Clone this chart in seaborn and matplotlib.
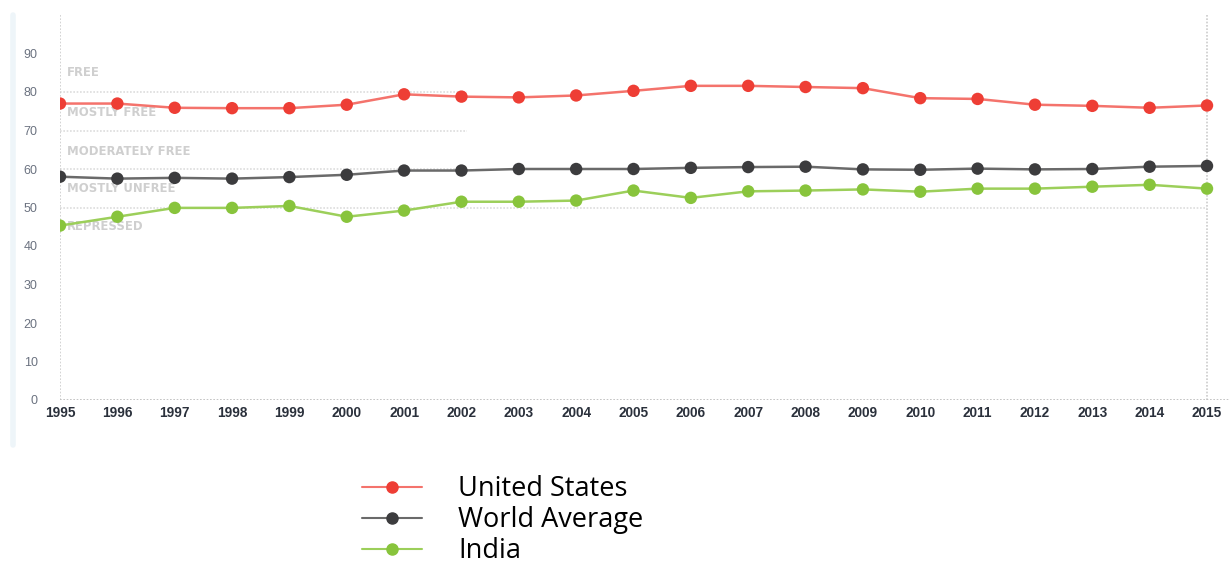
import numpy as np
import pandas as pd
import matplotlib
matplotlib.use("Agg")
import matplotlib.pyplot as plt
from matplotlib.lines import Line2D
import seaborn as sns

years = list(range(1995, 2016))
united_states = [77.0, 77.0, 75.9, 75.8, 75.8, 76.7, 79.4, 78.8, 78.6, 79.1, 80.3, 81.6, 81.6, 81.3, 81.0, 78.4, 78.2, 76.7, 76.4, 75.9, 76.5]
world_average = [58.0, 57.5, 57.7, 57.5, 57.9, 58.5, 59.6, 59.6, 60.0, 60.0, 60.0, 60.3, 60.5, 60.6, 59.9, 59.8, 60.1, 59.9, 60.0, 60.6, 60.8]
india = [45.3, 47.6, 49.9, 49.9, 50.4, 47.6, 49.2, 51.5, 51.5, 51.8, 54.4, 52.5, 54.2, 54.4, 54.7, 54.1, 54.9, 54.9, 55.4, 55.9, 54.9]
series_names = ["United States", "World Average", "India"]
band_labels = ["FREE", "MOSTLY FREE", "MODERATELY FREE", "MOSTLY UNFREE", "REPRESSED"]
band_label_y = [85.0, 74.6, 64.6, 55.0, 45.0]
y_ticks = [0, 10, 20, 30, 40, 50, 60, 70, 80, 90]

df = pd.DataFrame({
    "Year": years * 3,
    "Score": united_states + world_average + india,
    "Series": [s for s in series_names for _ in years],
})

sns.set_style("white")
plt.rcParams["font.family"] = ["DejaVu Sans"]

fig = plt.figure(figsize=(12.29, 5.67), dpi=100)
ax = fig.add_axes([60 / 1229, 1 - 400 / 567, (1229 - 60) / 1229, (400 - 15) / 567])

line_colors = {"United States": "#f4736c", "World Average": "#6a6a6a", "India": "#9ccf5a"}
marker_colors = {"United States": "#ee3e35", "World Average": "#3c3c3e", "India": "#88c43c"}

# band guide lines
for yv, x_end in [(80, 2002.1), (70, 2002.1), (60, 2002.1), (50, 2015)]:
    ax.plot([1995, x_end], [yv, yv], color="#dddddd", lw=1.2, ls=(0, (1, 1)), zorder=1)

sns.lineplot(data=df, x="Year", y="Score", hue="Series", palette=line_colors,
             linewidth=1.8, ax=ax, legend=False, zorder=3)
for name in series_names:
    sub = df[df["Series"] == name]
    sns.scatterplot(data=sub, x="Year", y="Score", color=marker_colors[name], s=80,
                    edgecolor="none", ax=ax, legend=False, zorder=4)

for lab, yv in zip(band_labels, band_label_y):
    ax.text(1995.12, yv, lab, color="#cfcfcf", fontsize=8.4, fontweight="bold",
            va="center", ha="left", zorder=2)

ax.axvline(1995, color="#cccccc", lw=1.2, ls=(0, (1, 1)), zorder=1)
ax.axvline(2015, color="#cccccc", lw=1.2, ls=(0, (1, 1)), zorder=1)
ax.axhline(0, color="#bbbbbb", lw=1.2, ls=(0, (1, 1)), zorder=1)

ax.set_xlim(1995, 1995 + (1229 - 60) / 57.35)
ax.set_ylim(0, 100)
ax.set_xticks(years)
ax.set_xticklabels([str(y) for y in years], fontsize=9.8, color="#2a303b",
                   fontweight="bold", family="Liberation Sans")
ax.set_yticks(y_ticks)
ax.set_yticklabels([str(v) for v in y_ticks], fontsize=9, color="#6b7280",
                   family="Liberation Sans")
ax.tick_params(axis="x", length=0, pad=4)
ax.tick_params(axis="y", length=0, pad=16)
ax.set_xlabel("")
ax.set_ylabel("")
for sp in ax.spines.values():
    sp.set_visible(False)
ax.patch.set_alpha(0)

# faint left border strip
fig.add_artist(Line2D([13 / 1229, 13 / 1229], [1 - 15 / 567, 1 - 445 / 567],
                      transform=fig.transFigure, color="#eef5f9", lw=4))

handles = [
    Line2D([0], [0], color=line_colors[n], lw=1.5, marker="o", markersize=8,
           markerfacecolor=marker_colors[n], markeredgecolor=marker_colors[n])
    for n in series_names
]
leg = fig.legend(handles, series_names, loc="upper left",
                 bbox_to_anchor=(362 / 1229, 1 - 475 / 567),
                 frameon=False, handlelength=2.2, handletextpad=1.35,
                 labelspacing=0.12, borderpad=0, borderaxespad=0,
                 prop={"family": "Open Sans", "size": 19.5})
for t in leg.get_texts():
    t.set_color("#000000")

fig.savefig("out.png", dpi=100)
